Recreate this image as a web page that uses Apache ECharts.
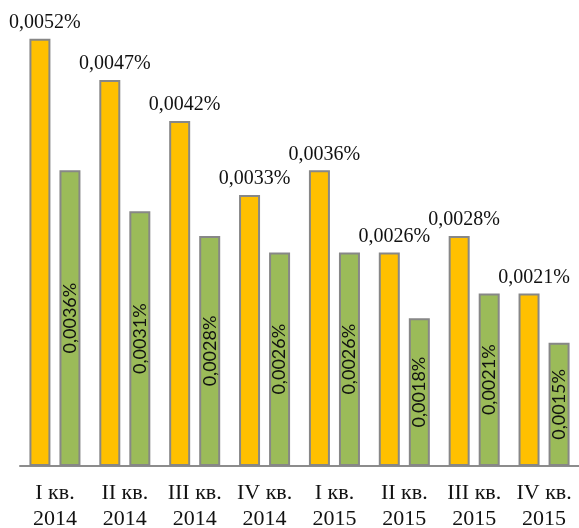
<!DOCTYPE html>
<html>
<head>
<meta charset="utf-8">
<script src="https://cdn.jsdelivr.net/npm/echarts@6/dist/echarts.min.js"></script>
<style>
  html, body { margin: 0; padding: 0; background: #fff; }
  #chart { width: 579px; height: 528px; }
</style>
</head>
<body>
<div id="chart"></div>
<script>
// Quarterly values, percent
const categories = ['I кв.\n2014', 'II кв.\n2014', 'III кв.\n2014', 'IV кв.\n2014',
                    'I кв.\n2015', 'II кв.\n2015', 'III кв.\n2015', 'IV кв.\n2015'];
const seriesA = [0.0052, 0.0047, 0.0042, 0.0033, 0.0036, 0.0026, 0.0028, 0.0021];
const seriesB = [0.0036, 0.0031, 0.0028, 0.0026, 0.0026, 0.0018, 0.0021, 0.0015];

const fmt = p => p.value.toFixed(4).replace('.', ',') + '%';

const chart = echarts.init(document.getElementById('chart'), null, { renderer: 'canvas' });
chart.setOption({
  animation: false,
  backgroundColor: '#ffffff',
  grid: { left: 20, right: 0, top: 6, bottom: 62, outerBoundsMode: 'none', containLabel: false },
  xAxis: {
    type: 'category',
    data: categories,
    axisLine: { lineStyle: { color: '#8c8c8c', width: 2 } },
    axisTick: { show: false },
    axisLabel: {
      interval: 0,
      hideOverlap: false,
      margin: 14,
      fontFamily: 'Liberation Serif',
      fontSize: 22,
      lineHeight: 26,
      color: '#111'
    }
  },
  yAxis: {
    type: 'value',
    min: 0,
    max: 0.0056,
    show: false,
    splitLine: { show: false }
  },
  series: [
    {
      type: 'bar',
      data: seriesA,
      barWidth: 21,
      barGap: '43%',
      itemStyle: { color: '#FFC000', borderColor: '#878787', borderWidth: 2 },
      label: {
        show: true,
        position: 'top',
        distance: 6,
        offset: [5, 0],
        formatter: fmt,
        fontFamily: 'Liberation Serif',
        fontSize: 20,
        color: '#111'
      }
    },
    {
      type: 'bar',
      data: seriesB,
      barWidth: 21,
      itemStyle: { color: '#9BBB59', borderColor: '#878787', borderWidth: 2 },
      label: {
        show: true,
        position: 'inside',
        rotate: 90,
        formatter: fmt,
        fontFamily: 'Lato',
        fontSize: 18,
        color: '#111'
      }
    }
  ]
});
</script>
</body>
</html>
